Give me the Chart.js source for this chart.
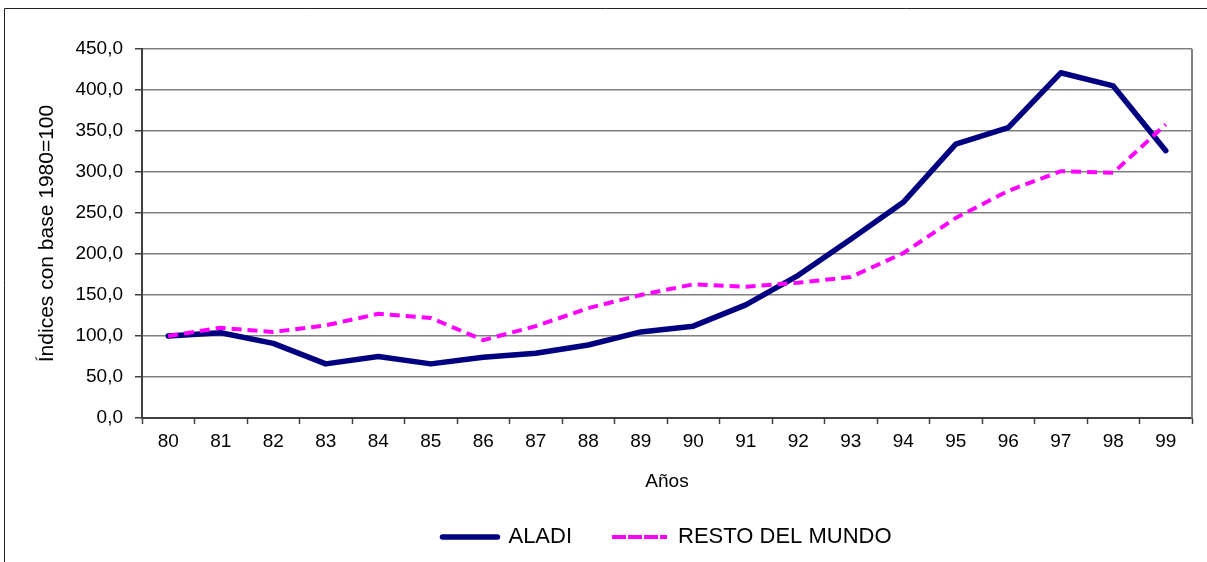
<!DOCTYPE html>
<html>
<head>
<meta charset="utf-8">
<script src="https://cdn.jsdelivr.net/npm/chart.js@4/dist/chart.umd.min.js"></script>
<style>
  html, body { margin: 0; padding: 0; background: #fff; }
  #wrap { width: 1207px; height: 562px; }
</style>
</head>
<body>
<div id="wrap"><canvas id="chart" width="1207" height="562"></canvas></div>
<script>
// años 1980-1999
var years = ['80', '81', '82', '83', '84', '85', '86', '87', '88', '89',
             '90', '91', '92', '93', '94', '95', '96', '97', '98', '99'];
var aladi = [100, 104, 91, 66, 75, 66, 74, 79, 89, 105, 112, 138, 174, 218, 263, 334, 354, 421, 405, 326];
var restoMundo = [100, 110, 105, 113, 127, 122, 95, 112, 134, 150, 163, 160, 165, 172, 201, 244, 277, 301, 299, 358];

var yTitle = 'Índices con base 1980=100';
var xTitle = 'Años';

Chart.defaults.font.family = '"Liberation Sans", Arial, sans-serif';
Chart.defaults.color = '#000';

// outer frame + right border of the plot
var frame = {
    id: 'frame',
    afterDraw: function(chart) {
        var c = chart.ctx, a = chart.chartArea;
        c.save();
        c.strokeStyle = '#222';
        c.lineWidth = 1;
        c.beginPath();
        c.moveTo(4.5, 562);
        c.lineTo(4.5, 8.5);
        c.lineTo(1207, 8.5);
        c.stroke();
        c.strokeStyle = '#808080';
        c.lineWidth = 2;
        c.beginPath();
        c.moveTo(a.right, a.top);
        c.lineTo(a.right, a.bottom);
        c.stroke();
        c.restore();
    }
};

var ctx = document.getElementById('chart');
var myChart = new Chart(ctx, {
    type: 'line',
    data: {
        labels: years,
        datasets: [
            {
                label: 'ALADI',
                data: aladi,
                borderColor: '#000080',
                backgroundColor: '#000080',
                borderWidth: 5.5,
                borderCapStyle: 'round',
                borderJoinStyle: 'round',
                pointRadius: 0,
                tension: 0,
                order: 1
            },
            {
                label: 'RESTO DEL MUNDO',
                data: restoMundo,
                borderColor: '#ff00ff',
                backgroundColor: '#ff00ff',
                borderWidth: 4,
                borderDash: [10, 6],
                pointRadius: 0,
                tension: 0,
                order: 0
            }
        ]
    },
    options: {
        responsive: false,
        animation: false,
        layout: { padding: { top: 49, right: 15, left: 0, bottom: 4 } },
        plugins: {
            tooltip: { enabled: false },
            legend: {
                position: 'bottom',
                fullSize: false,
                labels: {
                    boxWidth: 55,
                    boxHeight: 0,
                    padding: 40,
                    font: { size: 22 },
                    color: '#000',
                    sort: function(a, b) { return a.datasetIndex - b.datasetIndex; }
                }
            }
        },
        scales: {
            x: {
                offset: true,
                grid: {
                    offset: true,
                    drawOnChartArea: false,
                    drawTicks: true,
                    tickLength: 6,
                    tickColor: '#404040',
                    tickWidth: 1.5
                },
                border: { color: '#404040', width: 2 },
                ticks: { font: { size: 19 }, color: '#000', padding: 6, maxRotation: 0, autoSkip: false },
                title: { display: true, text: xTitle, font: { size: 19 }, color: '#000', padding: { top: 0, bottom: -7 } },
                afterFit: function(s) { s.height = 68; }
            },
            y: {
                min: 0,
                max: 450,
                ticks: {
                    stepSize: 50,
                    font: { size: 19 },
                    color: '#000',
                    padding: 12,
                    callback: function(v) { return v.toFixed(1).replace('.', ','); }
                },
                grid: {
                    color: '#808080',
                    lineWidth: 1.5,
                    tickLength: 7,
                    tickColor: '#404040'
                },
                border: { color: '#404040', width: 2 },
                title: { display: true, text: yTitle, font: { size: 21 }, color: '#000', padding: { top: 35, bottom: 0 } },
                afterFit: function(s) { s.width = 142; }
            }
        }
    },
    plugins: [frame]
});
</script>
</body>
</html>
